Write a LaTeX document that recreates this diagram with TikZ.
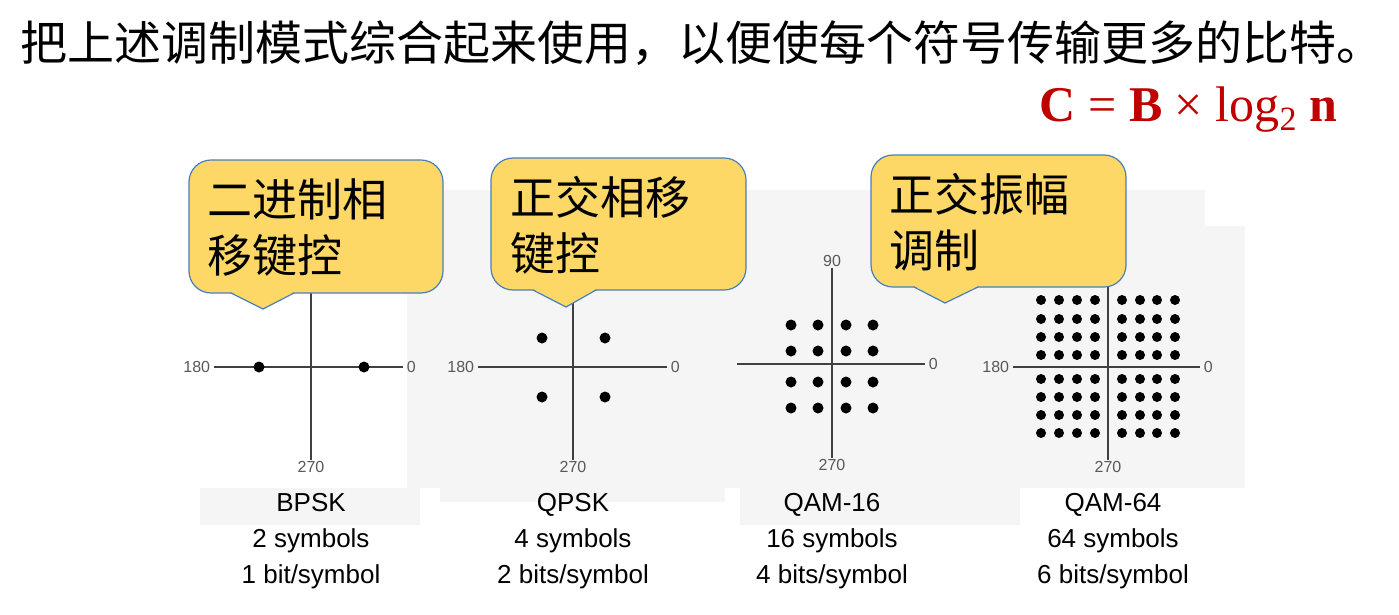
\documentclass[tikz,border=0pt]{standalone}
\usepackage{fontspec}
\setmainfont{Liberation Sans}
\newfontfamily\cjk{Noto Sans CJK SC}
\newfontfamily\serifx{Liberation Serif}
\usetikzlibrary{calc}
\definecolor{bub}{HTML}{FDD866}
\definecolor{bubline}{HTML}{4A7EBB}
\definecolor{dred}{HTML}{C00000}
\definecolor{bg}{HTML}{F5F5F5}
\begin{document}
\begin{tikzpicture}[x=1pt,y=-1pt,
  axis/.style={draw=black!75,line width=1.2pt},
  alab/.style={font=\fontsize{16}{16}\selectfont,text=black!65,inner sep=1pt},
  dot/.style={circle,fill=black,inner sep=0pt,minimum size=11pt},
  captext/.style={font=\fontsize{26}{36}\selectfont,align=center,inner sep=0pt},
  bubtext/.style={font=\cjk\fontsize{45}{56}\selectfont,align=left,anchor=north west,inner sep=0pt},
  bubble/.style={fill=bub,draw=bubline,line width=1.2pt,rounded corners=22pt},
  ptr/.style={draw=bubline,line width=1.2pt}]
\useasboundingbox (0,0) rectangle (1399,614);
\fill[white] (0,0) rectangle (1399,614);
\fill[bg] (407,190) rectangle (1205,488);
\fill[bg] (1205,226) rectangle (1245,488);
\fill[bg] (200,488) rectangle (420,525);
\fill[bg] (440,488) rectangle (725,502);
\fill[bg] (740,488) rectangle (1020,525);
\node[anchor=west,font=\cjk\fontsize{47}{50}\selectfont,inner sep=0pt] (title) at (20,43) {把上述调制模式综合起来使用，以便使每个符号传输更多的比特。};
\node[anchor=east,text=dred,font=\serifx\fontsize{50}{50}\selectfont,inner sep=0pt] (formula) at (1337,110) {\textbf{C} = \textbf{B} × log\raisebox{-9pt}{\fontsize{34}{34}\selectfont 2} \textbf{n}};
% BPSK
\coordinate (b1t) at (311,293); \coordinate (b1b) at (311,460);
\coordinate (b1l) at (214,367); \coordinate (b1r) at (403,367);
\draw[axis] (b1t)--(b1b); \draw[axis] (b1l)--(b1r);
\node[alab,anchor=east] (b1a) at (b1l) {180\,};
\node[alab,anchor=west] (b1c) at (b1r) {\,0};
\node[alab,anchor=north] (b1d) at (b1b) {270};
\node[dot] (bd1) at (259,367) {}; \node[dot] (bd2) at (364,367) {};
% QPSK
\coordinate (q1t) at (573,290); \coordinate (q1b) at (573,460);
\coordinate (q1l) at (478,367); \coordinate (q1r) at (667,367);
\draw[axis] (q1t)--(q1b); \draw[axis] (q1l)--(q1r);
\node[alab,anchor=east] (q1a) at (q1l) {180\,};
\node[alab,anchor=west] (q1c) at (q1r) {\,0};
\node[alab,anchor=north] (q1d) at (q1b) {270};
\foreach \x in {542,605}{\foreach \y in {338,397}{\node[dot] at (\x,\y) {};}}
% QAM-16
\coordinate (m1t) at (832,268); \coordinate (m1b) at (832,458);
\coordinate (m1l) at (737,364); \coordinate (m1r) at (925,364);
\draw[axis] (m1t)--(m1b); \draw[axis] (m1l)--(m1r);
\node[alab,anchor=south] (m1u) at (m1t) {90};
\node[alab,anchor=west] (m1c) at (m1r) {\,0};
\node[alab,anchor=north] (m1d) at (m1b) {270};
\foreach \x in {791,818,846,873}{\foreach \y in {325,351,382,408}{\node[dot] at (\x,\y) {};}}
% QAM-64
\coordinate (s1t) at (1108,280); \coordinate (s1b) at (1108,460);
\coordinate (s1l) at (1013,367); \coordinate (s1r) at (1200,367);
\draw[axis] (s1t)--(s1b); \draw[axis] (s1l)--(s1r);
\node[alab,anchor=east] (s1a) at (s1l) {180\,};
\node[alab,anchor=west] (s1c) at (s1r) {\,0};
\node[alab,anchor=north] (s1d) at (s1b) {270};
\foreach \x in {1041,1059,1077,1095,1122,1140,1157,1175}{\foreach \y in {300,319,337,355,379,397,415,433}{\node[dot,minimum size=10pt] at (\x,\y) {};}}
% captions
\node[captext] (c1) at (311,541) {BPSK\\2 symbols\\1 bit/symbol};
\node[captext] (c2) at (573,541) {QPSK\\4 symbols\\2 bits/symbol};
\node[captext] (c3) at (832,541) {QAM-16\\16 symbols\\4 bits/symbol};
\node[captext] (c4) at (1113,541) {QAM-64\\64 symbols\\6 bits/symbol};
% bubbles
\draw[bubble] (189,160) rectangle (443,293);
\fill[bub] (231,292) -- (263,309) -- (294,292) -- cycle;
\draw[ptr] (231,293) -- (263,309) -- (294,293);
\node[bubtext] (t1) at (207,178) {二进制相\\移键控};
\draw[bubble] (491,158) rectangle (746,290);
\fill[bub] (533,289) -- (566,307) -- (596,289) -- cycle;
\draw[ptr] (533,290) -- (566,307) -- (596,290);
\node[bubtext] (t2) at (510,176) {正交相移\\键控};
\draw[bubble] (871,155) rectangle (1126,287);
\fill[bub] (914,286) -- (945,303) -- (978,286) -- cycle;
\draw[ptr] (914,287) -- (945,303) -- (978,287);
\node[bubtext] (t3) at (889,173) {正交振幅\\调制};
\end{tikzpicture}
\end{document}
